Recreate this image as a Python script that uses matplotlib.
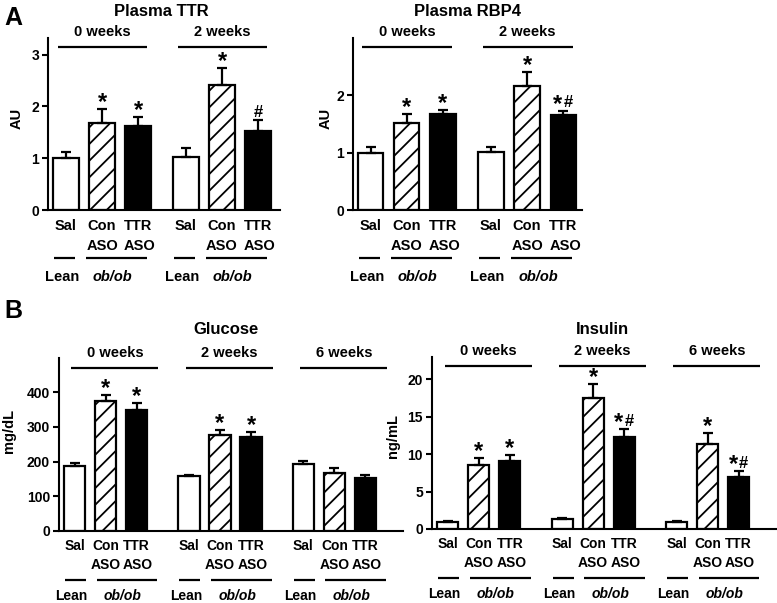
import matplotlib
matplotlib.use("Agg")
import matplotlib.pyplot as plt
from matplotlib.transforms import offset_copy

plt.rcParams['font.family'] = ['Liberation Sans', 'DejaVu Sans']
plt.rcParams['font.weight'] = 'bold'
plt.rcParams['axes.linewidth'] = 1.5
plt.rcParams['hatch.linewidth'] = 1.3

# ---- data ----
top_groups = ['0 weeks', '2 weeks']
bot_groups = ['0 weeks', '2 weeks', '6 weeks']
treatments = ['Sal', 'Con', 'TTR']

ttr_mean = [1.00, 1.68, 1.63, 1.03, 2.42, 1.52]
ttr_sem = [0.12, 0.26, 0.17, 0.17, 0.32, 0.21]
ttr_marks = ['', '*', '*', '', '*', '#']

rbp4_mean = [1.00, 1.52, 1.67, 1.01, 2.17, 1.65]
rbp4_sem = [0.10, 0.15, 0.07, 0.09, 0.24, 0.08]
rbp4_marks = ['', '*', '*', '', '*', '*#']

glu_mean = [186, 374, 349, 157, 275, 271, 193, 166, 152]
glu_sem = [11, 17, 20, 5, 16, 13, 8, 15, 10]
glu_marks = ['', '*', '*', '', '*', '*', '', '', '']

ins_mean = [0.94, 8.6, 9.06, 1.34, 17.5, 12.3, 0.98, 11.3, 6.9]
ins_sem = [0.08, 0.86, 0.8, 0.13, 1.9, 1.05, 0.15, 1.6, 0.8]
ins_marks = ['', '*', '*', '', '*', '*#', '', '*', '*#']

fig = plt.figure(figsize=(7.77, 6.03), dpi=100)
W, H = 777.0, 603.0


def px_axes(left, top, right, bottom):
    return fig.add_axes([left / W, 1 - bottom / H, (right - left) / W, (bottom - top) / H])


def off(ax, dy, base='x'):
    # dy in pixels, measured up from the axes bottom
    tr = ax.get_xaxis_transform() if base == 'x' else ax.transAxes
    return offset_copy(tr, fig=fig, y=dy, units='dots')


def put_mark(ax, x, top, s):
    both = len(s) > 1
    for ch in s:
        dx = 0
        if both:
            dx = -5.5 if ch == '*' else 5.0
        if ch == '*':
            ax.annotate('*', (x, top), xytext=(dx * 0.72, 0.0), textcoords='offset points',
                        ha='center', va='baseline', fontsize=17, fontweight='bold')
        else:
            ax.annotate('#', (x, top), xytext=(dx * 0.72, 2.5), textcoords='offset points',
                        ha='center', va='baseline', fontsize=12, fontweight='bold')


def panel(ax, mean, sem, marks, groups, gap, width, xlim, ylim, yticks,
          head_span, lean_span, ob_span, ob_x, rows, fs, ylabel, ylab_xy, title, title_x, title_dy):
    pos = []
    for g in range(len(groups)):
        pos += [g * gap + k for k in range(3)]
    fills = ['white', 'white', 'black'] * len(groups)
    hatches = [None, '//', None] * len(groups)
    bars = ax.bar(pos, mean, width=width, color=fills, edgecolor='black', linewidth=1.6, zorder=2)
    for b, h in zip(bars, hatches):
        if h:
            b.set_hatch(h)
    ax.errorbar(pos, mean, yerr=[[0] * len(mean), sem], fmt='none', ecolor='black',
                elinewidth=1.6, capsize=3.6, capthick=1.6, zorder=3)
    for x, m, e, s in zip(pos, mean, sem, marks):
        if s:
            put_mark(ax, x, m + e, s)

    ax.set_xlim(*xlim)
    ax.set_ylim(*ylim)
    ax.set_yticks(yticks)
    ax.set_xticks([])
    ax.spines['top'].set_visible(False)
    ax.spines['right'].set_visible(False)
    ax.tick_params(axis='y', length=4, width=1.5, pad=2.5, labelsize=10)
    for lab in ax.get_yticklabels():
        lab.set_fontweight('bold')

    for g, name in enumerate(groups):
        o = g * gap
        # group header
        ax.plot([o + head_span[0], o + head_span[1]], [0, 0], transform=off(ax, 163),
                color='black', lw=1.6, clip_on=False, solid_capstyle='butt')
        ax.text(o + (head_span[0] + head_span[1]) / 2, 0, name, transform=off(ax, 178),
                ha='center', va='center', fontsize=10.5)
        # treatment labels
        for k, t in enumerate(treatments):
            ax.text(o + k, 0, t, transform=off(ax, -rows[0]), ha='center', va='center', fontsize=fs)
        for k in (1, 2):
            ax.text(o + k + 0.05 * (k - 1), 0, 'ASO', transform=off(ax, -rows[1]),
                    ha='center', va='center', fontsize=fs)
        ax.plot([o + lean_span[0], o + lean_span[1]], [0, 0], transform=off(ax, -rows[2]),
                color='black', lw=1.6, clip_on=False, solid_capstyle='butt')
        ax.plot([o + ob_span[0], o + ob_span[1]], [0, 0], transform=off(ax, -rows[2]),
                color='black', lw=1.6, clip_on=False, solid_capstyle='butt')
        ax.text(o - 0.1, 0, 'Lean', transform=off(ax, -rows[3]), ha='center', va='center', fontsize=fs)
        ax.text(o + ob_x, 0, 'ob/ob', transform=off(ax, -rows[3]), ha='center', va='center',
                fontsize=fs, style='italic')

    ax.text(ylab_xy[0], ylab_xy[1], ylabel, transform=ax.transAxes, rotation=90,
            ha='center', va='center', fontsize=10.5)
    ax.text(title_x, 0, title, transform=off(ax, title_dy, base='axes'), ha='center', va='center',
            fontsize=12)


ax1 = px_axes(48, 38, 280, 210)
panel(ax1, ttr_mean, ttr_sem, ttr_marks, top_groups, 3.33, 0.7, (-0.5, 5.94), (0, 3.32), [0, 1, 2, 3],
      (-0.23, 2.26), (-0.33, 0.26), (0.56, 2.24), 1.3, (15.7, 36, 48.3, 67), 10.5,
      'AU', (-0.135, 0.53), 'Plasma TTR', 0.49, 172 + 26)

ax2 = px_axes(353, 38, 582, 210)
panel(ax2, rbp4_mean, rbp4_sem, rbp4_marks, top_groups, 3.33, 0.7, (-0.49, 5.85), (0, 3.0), [0, 1, 2],
      (-0.23, 2.26), (-0.33, 0.26), (0.56, 2.24), 1.3, (15.7, 36, 48.3, 67), 10.5,
      'AU', (-0.12, 0.53), 'Plasma RBP4', 0.5, 172 + 26)

ax3 = px_axes(59, 358, 403, 531)
panel(ax3, glu_mean, glu_sem, glu_marks, bot_groups, 3.69, 0.68, (-0.5, 10.59), (0, 498),
      [0, 100, 200, 300, 400], (-0.1, 2.7), (-0.31, 0.37), (0.71, 2.67), 1.55,
      (15.3, 33.6, 48.6, 65.0), 10, 'mg/dL', (-0.146, 0.58), 'Glucose', 0.485, 173 + 28)

ax4 = px_axes(432, 357, 777, 529)
panel(ax4, ins_mean, ins_sem, ins_marks, bot_groups, 3.69, 0.68, (-0.51, 10.62), (0, 23),
      [0, 5, 10, 15, 20], (-0.1, 2.7), (-0.31, 0.37), (0.71, 2.67), 1.55,
      (15.3, 33.6, 48.6, 65.0), 10, 'ng/mL', (-0.114, 0.54), 'Insulin', 0.495, 172 + 28)

fig.text(13 / W, 1 - 18 / H, 'A', fontsize=18, fontweight='bold', ha='center', va='center')
fig.text(13 / W, 1 - 311 / H, 'B', fontsize=18, fontweight='bold', ha='center', va='center')

fig.savefig('out.png', dpi=100)
